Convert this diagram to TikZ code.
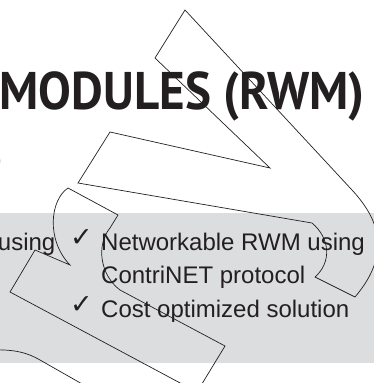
\documentclass[tikz,border=0pt]{standalone}
\usepackage{fontspec}
\setmainfont{Liberation Sans}
\newfontfamily\headfont{PT Sans}
\newfontfamily\symfont{DejaVu Sans}
\usetikzlibrary{positioning}
\definecolor{ink}{HTML}{231F20}
\definecolor{panelgray}{HTML}{DCDDDF}

\begin{document}
\begin{tikzpicture}[x=1pt, y=-1pt,
  head/.style={font=\headfont\bfseries\fontsize{53}{60}\selectfont, text=ink, inner sep=0pt},
  body/.style={font=\fontsize{24}{28}\selectfont, text=ink, inner sep=0pt, anchor=base west},
  chk/.style={font=\symfont\fontsize{27}{30}\selectfont, text=ink, inner sep=0pt, anchor=base west},
  outline/.style={draw=ink, line width=0.7pt, line join=miter}]
  \useasboundingbox (0,0) rectangle (374,383);
  \clip (0,0) rectangle (374,383);

  % panel and heading
  \fill[panelgray] (0,213) rectangle (374,363);
  \node[head, anchor=base west] (title) at (-0.5,109) {\scalebox{0.925}[1]{MODULES (RWM)}};
  \node[head, anchor=base east] (subtitle) at (4,174) {)};

  % list
  \node[body, anchor=base east] (prev) at (55.5,250) {using};
  \node[chk] (chk1) at (70,246) {✓};
  \node[body] (net) at (101,250) {Networkable RWM using};
  \node[body] (contri) at (101,283.5) {ContriNET protocol};
  \node[chk] (chk2) at (70,313) {✓};
  \node[body] (cost) at (101,317) {Cost optimized solution};

  % outlines on top
  \draw[outline] (312,223) -- (78,183) -- (110,132) -- (270,168) -- (155,58) -- (185,10)
    -- (352,190) .. controls (375,215) and (395,250) .. (355,297) -- (315,277)
    .. controls (332,262) and (330,238) .. (312,223);
  \draw[outline] (197,392) -- (225,346) -- (120,290)
    .. controls (100,275) and (96,245) .. (110,228) -- (118,215) -- (68,188)
    .. controls (50,200) and (46,240) .. (70,265) -- (35,250) -- (10,292) -- cycle;
  \draw[outline] (-10,350) .. controls (15,349) and (28,353) .. (40,360) -- (98,393);
\end{tikzpicture}
\end{document}
